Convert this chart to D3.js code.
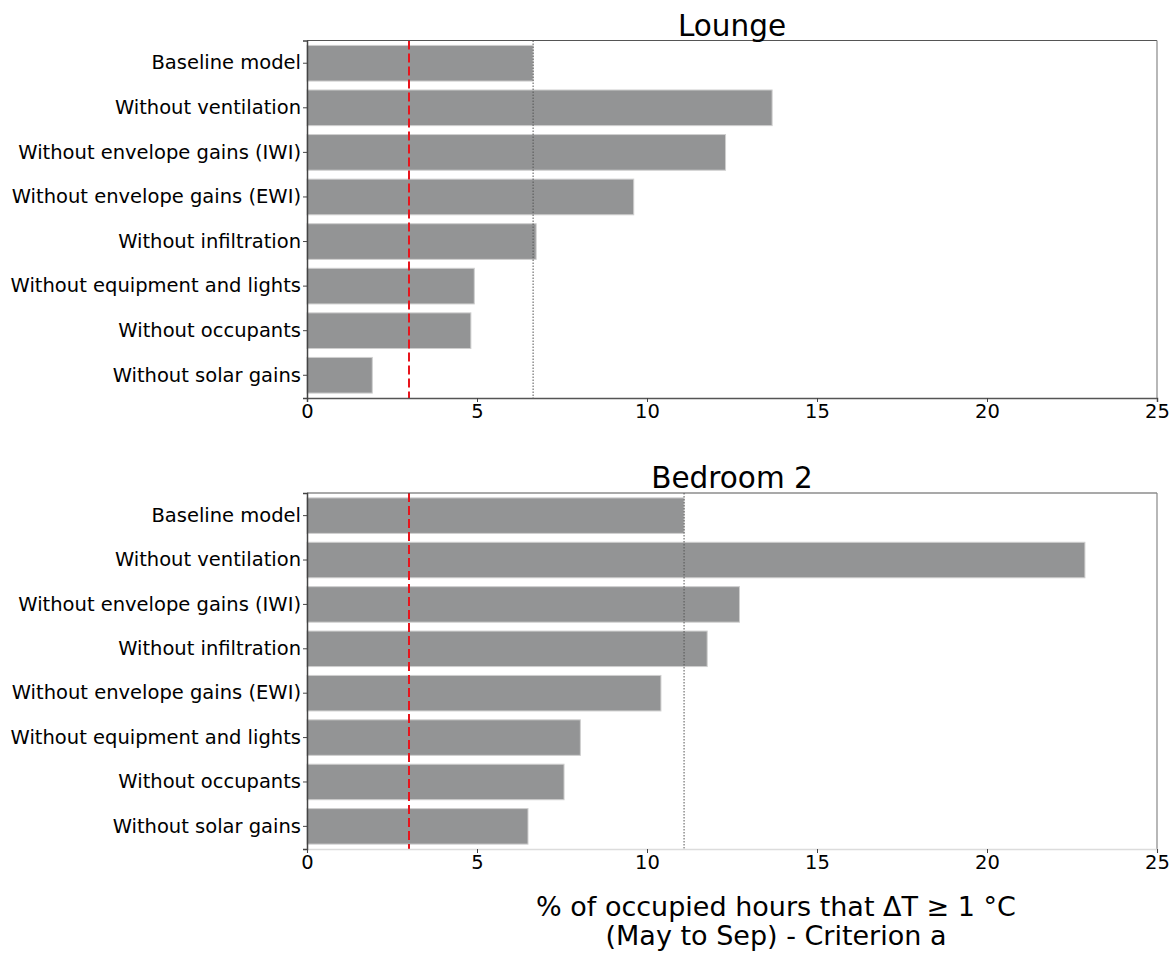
<!DOCTYPE html>
<html>
<head>
<meta charset="utf-8">
<script src="https://cdn.jsdelivr.net/npm/d3@7"></script>
<style>
  html, body { margin: 0; padding: 0; background: #fff; }
  svg { display: block; font-family: "DejaVu Sans", sans-serif; }
</style>
</head>
<body>
<svg id="chart" width="1172" height="954"></svg>
<script>
// Lounge scenarios (top to bottom) and % of occupied hours with ΔT ≥ 1 °C
const loungeCategories = [
  "Baseline model",
  "Without ventilation",
  "Without envelope gains (IWI)",
  "Without envelope gains (EWI)",
  "Without infiltration",
  "Without equipment and lights",
  "Without occupants",
  "Without solar gains"
];
const loungeValues = [6.65, 13.68, 12.31, 9.61, 6.74, 4.92, 4.82, 1.92];

// Bedroom 2 scenarios (top to bottom)
const bedroomCategories = [
  "Baseline model",
  "Without ventilation",
  "Without envelope gains (IWI)",
  "Without infiltration",
  "Without envelope gains (EWI)",
  "Without equipment and lights",
  "Without occupants",
  "Without solar gains"
];
const bedroomValues = [11.09, 22.88, 12.72, 11.77, 10.41, 8.04, 7.56, 6.50];

const xTicks = [0, 5, 10, 15, 20, 25];
const xDomain = [0, 25];
const criterionThreshold = 3;
const xLabelLines = ["% of occupied hours that ΔT ≥ 1 °C", "(May to Sep) - Criterion a"];

const svg = d3.select("#chart");
const left = 307, right = 1157;

const x = d3.scaleLinear().domain(xDomain).range([left, right]);

function panel(title, categories, values, top, bottom, bottomSpineColor) {
  const g = svg.append("g");
  const y = d3.scaleBand()
    .domain(categories)
    .range([top, bottom])
    .paddingInner(0.2)
    .paddingOuter(0.11);

  // bars
  g.selectAll("rect.bar")
    .data(categories.map((c, i) => ({ c, v: values[i] })))
    .join("rect")
    .attr("class", "bar")
    .attr("x", x(0))
    .attr("y", d => y(d.c))
    .attr("width", d => x(d.v) - x(0))
    .attr("height", y.bandwidth())
    .attr("fill", "#939495")
    .attr("stroke", "#cfcfcf")
    .attr("stroke-width", 1);

  // criterion threshold (red dashed)
  g.append("line")
    .attr("x1", x(criterionThreshold)).attr("x2", x(criterionThreshold))
    .attr("y1", top).attr("y2", bottom)
    .attr("stroke", "#e8141c")
    .attr("stroke-width", 2)
    .attr("stroke-dasharray", "9,4");

  // baseline reference (dotted)
  g.append("line")
    .attr("x1", x(values[0])).attr("x2", x(values[0]))
    .attr("y1", top).attr("y2", bottom)
    .attr("stroke", "#555")
    .attr("stroke-width", 1)
    .attr("stroke-dasharray", "1.5,1.5");

  // frame
  g.append("line").attr("x1", left).attr("x2", right).attr("y1", top).attr("y2", top)
    .attr("stroke", "#555").attr("stroke-width", 1.2);
  g.append("line").attr("x1", right).attr("x2", right).attr("y1", top).attr("y2", bottom)
    .attr("stroke", "#888").attr("stroke-width", 1.2);

  // x axis
  const xa = g.append("g")
    .attr("transform", `translate(0,${bottom})`)
    .call(d3.axisBottom(x).tickValues(xTicks).tickSize(4).tickPadding(2).tickFormat(d3.format("d")));
  xa.select(".domain").attr("stroke", bottomSpineColor).attr("stroke-width", 1.5);
  xa.selectAll(".tick line").attr("stroke", "#444");
  xa.selectAll(".tick text").attr("fill", "#000").attr("font-size", 19.5)
    .attr("font-family", "DejaVu Sans, sans-serif");

  // y axis
  const ya = g.append("g")
    .attr("transform", `translate(${left},0)`)
    .call(d3.axisLeft(y).tickSize(4).tickPadding(2));
  ya.select(".domain").attr("stroke", "#444").attr("stroke-width", 1.5);
  ya.selectAll(".tick line").attr("stroke", "#444");
  ya.selectAll(".tick text").attr("fill", "#000").attr("font-size", 19.5)
    .attr("font-family", "DejaVu Sans, sans-serif");

  // title
  g.append("text")
    .attr("x", (left + right) / 2)
    .attr("y", top - 5)
    .attr("text-anchor", "middle")
    .attr("font-size", 29.5)
    .attr("fill", "#000")
    .text(title);
}

panel("Lounge", loungeCategories, loungeValues, 40.5, 398, "#555");
panel("Bedroom 2", bedroomCategories, bedroomValues, 493, 849, "#dcdcdc");

// shared x-axis label
svg.append("text")
  .attr("x", 776)
  .attr("y", 916)
  .attr("text-anchor", "middle")
  .attr("font-size", 27)
  .attr("fill", "#000")
  .selectAll("tspan")
  .data(xLabelLines)
  .join("tspan")
  .attr("x", 776)
  .attr("dy", (d, i) => i === 0 ? 0 : 29)
  .text(d => d);
</script>
</body>
</html>
